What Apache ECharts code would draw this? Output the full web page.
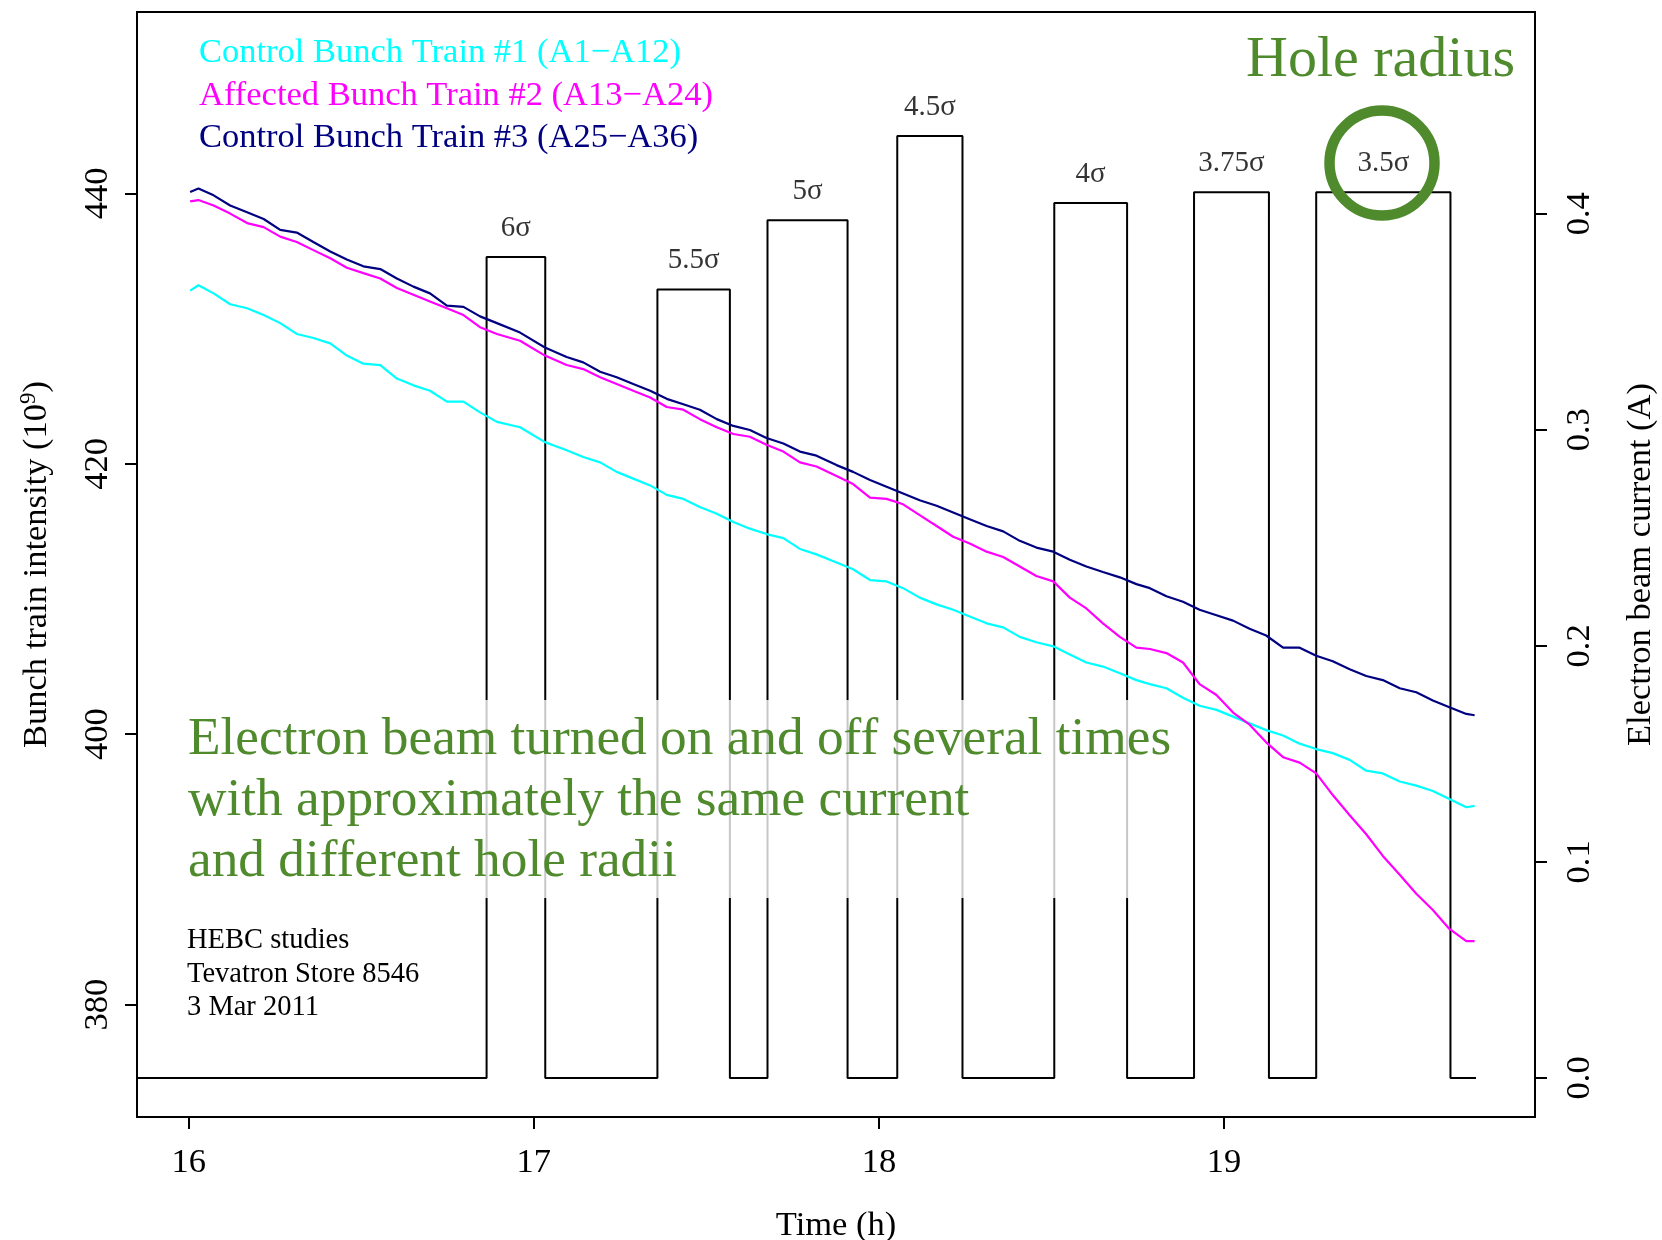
<!DOCTYPE html>
<html>
<head>
<meta charset="utf-8">
<script src="https://cdn.jsdelivr.net/npm/echarts@6/dist/echarts.min.js"></script>
<style>
  html, body { margin: 0; padding: 0; background: #ffffff; }
  #chart { width: 1662px; height: 1240px; }
</style>
</head>
<body>
<div id="chart"></div>
<script>
// Time of each intensity sample (h)
const hours = [
  16.004, 16.028, 16.072, 16.120, 16.169, 16.217, 16.265, 16.313, 16.361, 16.410,
  16.458, 16.506, 16.555, 16.603, 16.651, 16.699, 16.748, 16.796, 16.844, 16.893,
  16.960, 17.032, 17.095, 17.143, 17.192, 17.240, 17.288, 17.337, 17.385, 17.433,
  17.481, 17.530, 17.578, 17.626, 17.674, 17.723, 17.771, 17.819, 17.877, 17.925,
  17.974, 18.022, 18.070, 18.118, 18.167, 18.215, 18.263, 18.312, 18.360, 18.408,
  18.456, 18.505, 18.553, 18.601, 18.649, 18.698, 18.746, 18.785, 18.833, 18.881,
  18.929, 18.978, 19.026, 19.074, 19.122, 19.171, 19.219, 19.267, 19.315, 19.364,
  19.412, 19.460, 19.509, 19.557, 19.605, 19.653, 19.702, 19.726
];

// Control Bunch Train #1 (A1-A12), 10^9
const train1 = [
  432.8, 433.2, 432.6, 431.8, 431.5, 431.0, 430.4, 429.6, 429.3, 428.9,
  428.0, 427.4, 427.3, 426.3, 425.8, 425.4, 424.6, 424.6, 423.8, 423.1,
  422.7, 421.6, 421.0, 420.5, 420.1, 419.4, 418.9, 418.4, 417.7, 417.4,
  416.8, 416.3, 415.7, 415.2, 414.8, 414.5, 413.7, 413.3, 412.7, 412.2,
  411.4, 411.3, 410.8, 410.1, 409.6, 409.2, 408.7, 408.2, 407.9, 407.2,
  406.8, 406.5, 405.9, 405.3, 405.0, 404.5, 404.0, 403.7, 403.4, 402.7,
  402.1, 401.8, 401.3, 400.8, 400.3, 399.9, 399.3, 398.9, 398.6, 398.1,
  397.3, 397.1, 396.5, 396.2, 395.8, 395.2, 394.6, 394.7
];

// Affected Bunch Train #2 (A13-A24), 10^9
const train2 = [
  439.4, 439.5, 439.1, 438.5, 437.8, 437.5, 436.8, 436.4, 435.8, 435.2,
  434.5, 434.1, 433.7, 433.0, 432.5, 432.0, 431.5, 431.0, 430.1, 429.6,
  429.1, 428.0, 427.3, 427.0, 426.4, 425.9, 425.4, 424.9, 424.2, 424.0,
  423.3, 422.7, 422.2, 422.0, 421.4, 420.9, 420.1, 419.8, 419.1, 418.5,
  417.5, 417.4, 417.0, 416.2, 415.4, 414.6, 414.1, 413.5, 413.1, 412.4,
  411.7, 411.3, 410.1, 409.3, 408.2, 407.2, 406.4, 406.3, 406.0, 405.3,
  403.7, 402.9, 401.6, 400.7, 399.4, 398.3, 397.9, 397.1, 395.5, 394.0,
  392.6, 391.0, 389.6, 388.2, 387.0, 385.6, 384.7, 384.7
];

// Control Bunch Train #3 (A25-A36), 10^9
const train3 = [
  440.1, 440.35, 439.85, 439.1, 438.6, 438.1, 437.3, 437.1, 436.4, 435.7,
  435.1, 434.6, 434.4, 433.7, 433.1, 432.6, 431.7, 431.6, 430.9, 430.4,
  429.7, 428.6, 427.9, 427.5, 426.8, 426.4, 425.9, 425.4, 424.8, 424.4,
  424.0, 423.3, 422.8, 422.5, 421.9, 421.5, 420.9, 420.6, 419.9, 419.4,
  418.8, 418.3, 417.8, 417.3, 416.9, 416.4, 415.9, 415.4, 415.0, 414.3,
  413.8, 413.5, 412.9, 412.4, 412.0, 411.6, 411.1, 410.8, 410.2, 409.8,
  409.2, 408.8, 408.4, 407.8, 407.3, 406.4, 406.4, 405.8, 405.4, 404.8,
  404.3, 404.0, 403.4, 403.1, 402.5, 402.0, 401.5, 401.4
];

// Electron beam pulses: switch-on / switch-off time (h), current (A), hole radius
const pulseOn = [16.863, 17.358, 17.677, 18.053, 18.508, 18.913, 19.267];
const pulseOff = [17.033, 17.568, 17.909, 18.242, 18.719, 19.130, 19.656];
const pulseCurrent = [0.380, 0.365, 0.397, 0.436, 0.405, 0.410, 0.410];
const holeRadius = ['6σ', '5.5σ', '5σ', '4.5σ', '4σ', '3.75σ', '3.5σ'];
const beamStart = 15.85;
const beamEnd = 19.73;

// Tick labels
const timeTicks = [16, 17, 18, 19];
const intensityTicks = [380, 400, 420, 440];
const currentTicks = [0, 0.1, 0.2, 0.3, 0.4];

const SERIF = "'Liberation Serif', 'Times New Roman', Times, serif";
const GREEN = '#4f8a2d';

// Beam current as a step trace
const beam = [[beamStart, 0]];
pulseOn.forEach((t, i) => {
  beam.push([t, 0], [t, pulseCurrent[i]], [pulseOff[i], pulseCurrent[i]], [pulseOff[i], 0]);
});
beam.push([beamEnd, 0]);

const pulseLabels = pulseOn.map((t, i) => ({
  value: [(t + pulseOff[i]) / 2, pulseCurrent[i]],
  label: { formatter: holeRadius[i] }
}));

const pair = (vals) => hours.map((h, i) => [h, vals[i]]);

const chart = echarts.init(document.getElementById('chart'), null, { renderer: 'canvas' });

const tickStyle = { show: true, length: 12, lineStyle: { color: '#000', width: 2 } };

chart.setOption({
  animation: false,
  backgroundColor: '#ffffff',
  grid: {
    left: 137, right: 127, top: 12, bottom: 123,
    outerBoundsMode: 'none', containLabel: false,
    show: true, borderColor: '#000', borderWidth: 2, backgroundColor: 'transparent'
  },
  xAxis: {
    type: 'value', min: 15.85, max: 19.901, position: 'bottom',
    name: 'Time (h)', nameLocation: 'middle', nameGap: 91,
    nameTextStyle: { fontFamily: SERIF, fontSize: 34.5, color: '#000' },
    axisLine: { show: false, onZero: false },
    axisTick: Object.assign({ customValues: timeTicks }, tickStyle),
    axisLabel: { customValues: timeTicks, fontFamily: SERIF, fontSize: 34.5, color: '#000', margin: 28 },
    splitLine: { show: false }
  },
  yAxis: [
    {
      type: 'value', position: 'left', min: 371.69, max: 453.41,
      name: '{n|Bunch train intensity (10}{s|9}{n|)}',
      nameLocation: 'middle', nameGap: 80, nameRotate: 90,
      nameTextStyle: {
        color: '#000',
        rich: {
          n: { fontFamily: SERIF, fontSize: 34.5, color: '#000', lineHeight: 40 },
          s: { fontFamily: SERIF, fontSize: 23, color: '#000', verticalAlign: 'top', lineHeight: 40 }
        }
      },
      axisLine: { show: false, onZero: false },
      axisTick: Object.assign({ customValues: intensityTicks }, tickStyle),
      axisLabel: {
        customValues: intensityTicks, rotate: 90, margin: 22,
        fontFamily: SERIF, fontSize: 34.5, color: '#000'
      },
      splitLine: { show: false }
    },
    {
      type: 'value', position: 'right', min: -0.0181, max: 0.4934,
      name: 'Electron beam current (A)',
      nameLocation: 'middle', nameGap: 88, nameRotate: 90,
      nameTextStyle: { fontFamily: SERIF, fontSize: 34.5, color: '#000' },
      axisLine: { show: false, onZero: false },
      axisTick: Object.assign({ customValues: currentTicks }, tickStyle),
      axisLabel: {
        customValues: currentTicks, rotate: 90, margin: 27,
        fontFamily: SERIF, fontSize: 34.5, color: '#000',
        formatter: (v) => v.toFixed(1)
      },
      splitLine: { show: false }
    }
  ],
  series: [
    {
      name: 'Electron beam current', type: 'line', yAxisIndex: 1,
      data: beam, showSymbol: false, symbol: 'none', clip: true, z: 2,
      lineStyle: { color: '#000', width: 2 }
    },
    {
      name: 'Hole radius', type: 'scatter', yAxisIndex: 1,
      data: pulseLabels, symbolSize: 0, z: 2, silent: true,
      label: {
        show: true, position: 'top', distance: 14,
        fontFamily: SERIF, fontSize: 29, color: '#000'
      }
    },
    {
      name: 'Control Bunch Train #1 (A1−A12)', type: 'line', yAxisIndex: 0,
      data: pair(train1), showSymbol: false, symbol: 'none', z: 5,
      lineStyle: { color: '#00ffff', width: 2.2 }
    },
    {
      name: 'Affected Bunch Train #2 (A13−A24)', type: 'line', yAxisIndex: 0,
      data: pair(train2), showSymbol: false, symbol: 'none', z: 5,
      lineStyle: { color: '#ff00ff', width: 2.2 }
    },
    {
      name: 'Control Bunch Train #3 (A25−A36)', type: 'line', yAxisIndex: 0,
      data: pair(train3), showSymbol: false, symbol: 'none', z: 6,
      lineStyle: { color: '#000080', width: 2.2 }
    }
  ],
  graphic: [
    // translucent panel behind the description
    { type: 'rect', z: 3, silent: true,
      shape: { x: 180, y: 700, width: 1000, height: 198 },
      style: { fill: 'rgba(255,255,255,0.78)' } },
    // legend
    { type: 'text', z: 10, x: 199, y: 53,
      style: { text: 'Control Bunch Train #1 (A1−A12)', font: '34.5px ' + SERIF, fill: '#00ffff', align: 'left', verticalAlign: 'middle' } },
    { type: 'text', z: 10, x: 199, y: 95.5,
      style: { text: 'Affected Bunch Train #2 (A13−A24)', font: '34.5px ' + SERIF, fill: '#ff00ff', align: 'left', verticalAlign: 'middle' } },
    { type: 'text', z: 10, x: 199, y: 138,
      style: { text: 'Control Bunch Train #3 (A25−A36)', font: '34.5px ' + SERIF, fill: '#000080', align: 'left', verticalAlign: 'middle' } },
    // hole radius heading and marker
    { type: 'text', z: 10, x: 1515, y: 61,
      style: { text: 'Hole radius', font: '58px ' + SERIF, fill: GREEN, align: 'right', verticalAlign: 'middle' } },
    { type: 'circle', z: 10, shape: { cx: 1382, cy: 163, r: 52.5 },
      style: { fill: 'none', stroke: GREEN, lineWidth: 10.5 } },
    // description
    { type: 'text', z: 10, x: 188, y: 740,
      style: { text: 'Electron beam turned on and off several times', font: '53.3px ' + SERIF, fill: GREEN, align: 'left', verticalAlign: 'middle' } },
    { type: 'text', z: 10, x: 188, y: 801,
      style: { text: 'with approximately the same current', font: '53.3px ' + SERIF, fill: GREEN, align: 'left', verticalAlign: 'middle' } },
    { type: 'text', z: 10, x: 188, y: 862,
      style: { text: 'and different hole radii', font: '53.3px ' + SERIF, fill: GREEN, align: 'left', verticalAlign: 'middle' } },
    // run info
    { type: 'text', z: 10, x: 187, y: 941,
      style: { text: 'HEBC studies', font: '28.5px ' + SERIF, fill: '#000', align: 'left', verticalAlign: 'middle' } },
    { type: 'text', z: 10, x: 187, y: 974.5,
      style: { text: 'Tevatron Store 8546', font: '28.5px ' + SERIF, fill: '#000', align: 'left', verticalAlign: 'middle' } },
    { type: 'text', z: 10, x: 187, y: 1008,
      style: { text: '3 Mar 2011', font: '28.5px ' + SERIF, fill: '#000', align: 'left', verticalAlign: 'middle' } }
  ]
});
</script>
</body>
</html>
